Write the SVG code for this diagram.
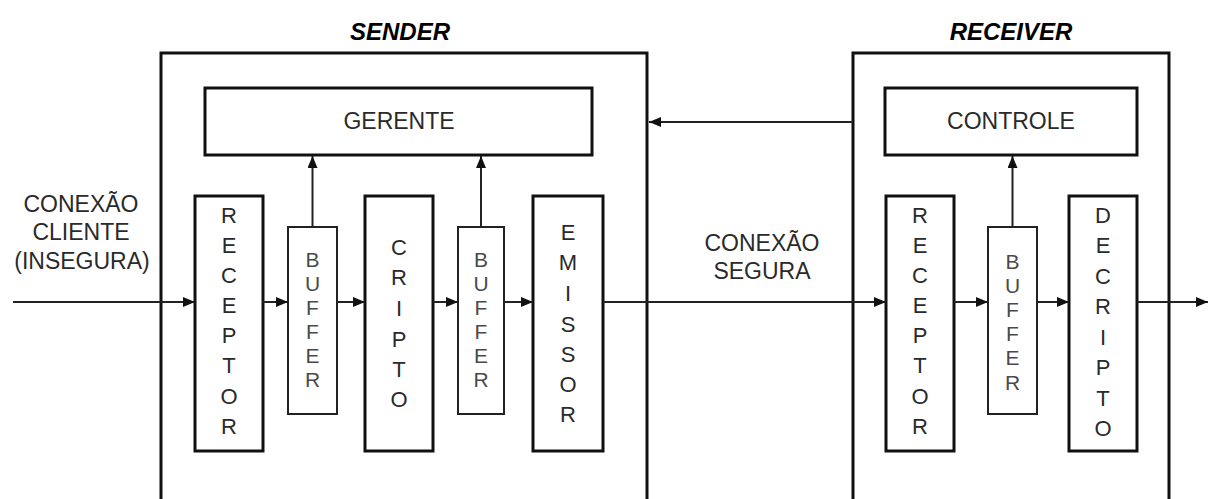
<svg xmlns="http://www.w3.org/2000/svg" width="1208" height="499" viewBox="0 0 1208 499">
<style>
.frame{fill:none;stroke:#111;stroke-width:3}
.blk{fill:#fff;stroke:#111;stroke-width:3}
.buf{fill:#fff;stroke:#222;stroke-width:2}
.conn{fill:none;stroke:#222;stroke-width:2}
.title{font-family:"Liberation Sans",Arial,sans-serif;font-weight:bold;font-style:italic;font-size:24px;fill:#000;text-anchor:middle}
.lbl{font-family:"Liberation Sans",Arial,sans-serif;font-size:23px;fill:#2a2a2a;text-anchor:middle}
.vl{font-family:"Liberation Sans",Arial,sans-serif;font-size:22px;fill:#2a2a2a;text-anchor:middle}
.vb{font-family:"Liberation Sans",Arial,sans-serif;font-size:21px;fill:#4a4a4a;text-anchor:middle}
</style>
<defs>
<marker id="ah" viewBox="0 0 12 10" refX="12" refY="5" markerWidth="13" markerHeight="10" markerUnits="userSpaceOnUse" orient="auto">
<path d="M0,0 L12,5 L0,10 z" fill="#111"/>
</marker>
</defs>
<rect width="1208" height="499" fill="#fff"/>

<g id="sender">
<rect class="frame" x="161" y="53" width="486" height="470"/>
<text class="title" x="400" y="40">SENDER</text>
</g>
<g id="receiver">
<rect class="frame" x="853" y="53" width="316" height="470"/>
<text class="title" x="1011" y="40">RECEIVER</text>
</g>

<g id="gerente">
<rect class="blk" x="205" y="88" width="387" height="67"/>
<text class="lbl" x="399" y="129">GERENTE</text>
</g>
<g id="controle">
<rect class="blk" x="885" y="88" width="252" height="67"/>
<text class="lbl" x="1011" y="129">CONTROLE</text>
</g>

<g id="label-cliente">
<text class="lbl" x="81" y="212">CONEXÃO</text>
<text class="lbl" x="81" y="240">CLIENTE</text>
<text class="lbl" x="82" y="269">(INSEGURA)</text>
</g>
<g id="label-segura">
<text class="lbl" x="762" y="251">CONEXÃO</text>
<text class="lbl" x="762" y="279">SEGURA</text>
</g>

<g id="receptor-s">
<rect class="blk" x="195" y="196" width="68" height="255"/>
<text class="vl"><tspan x="229" y="223">R</tspan><tspan x="229" y="253">E</tspan><tspan x="229" y="283">C</tspan><tspan x="229" y="313">E</tspan><tspan x="229" y="343">P</tspan><tspan x="229" y="373">T</tspan><tspan x="229" y="404">O</tspan><tspan x="229" y="434">R</tspan></text>
</g>
<g id="buffer-s1">
<rect class="buf" x="288" y="227" width="49" height="187"/>
<text class="vb"><tspan x="312.5" y="267">B</tspan><tspan x="312.5" y="291">U</tspan><tspan x="312.5" y="315">F</tspan><tspan x="312.5" y="339">F</tspan><tspan x="312.5" y="363">E</tspan><tspan x="312.5" y="387">R</tspan></text>
</g>
<g id="cripto">
<rect class="blk" x="365" y="196" width="68" height="255"/>
<text class="vl"><tspan x="399" y="255">C</tspan><tspan x="399" y="285">R</tspan><tspan x="399" y="316">I</tspan><tspan x="399" y="347">P</tspan><tspan x="399" y="377">T</tspan><tspan x="399" y="407">O</tspan></text>
</g>
<g id="buffer-s2">
<rect class="buf" x="458" y="227" width="46" height="187"/>
<text class="vb"><tspan x="481" y="267">B</tspan><tspan x="481" y="291">U</tspan><tspan x="481" y="315">F</tspan><tspan x="481" y="339">F</tspan><tspan x="481" y="363">E</tspan><tspan x="481" y="387">R</tspan></text>
</g>
<g id="emissor">
<rect class="blk" x="533" y="196" width="70" height="255"/>
<text class="vl"><tspan x="568" y="240">E</tspan><tspan x="568" y="270">M</tspan><tspan x="568" y="301">I</tspan><tspan x="568" y="332">S</tspan><tspan x="568" y="362">S</tspan><tspan x="568" y="392">O</tspan><tspan x="568" y="422">R</tspan></text>
</g>

<g id="receptor-r">
<rect class="blk" x="886" y="196" width="68" height="255"/>
<text class="vl"><tspan x="920" y="223">R</tspan><tspan x="920" y="253">E</tspan><tspan x="920" y="283">C</tspan><tspan x="920" y="313">E</tspan><tspan x="920" y="343">P</tspan><tspan x="920" y="373">T</tspan><tspan x="920" y="404">O</tspan><tspan x="920" y="434">R</tspan></text>
</g>
<g id="buffer-r">
<rect class="buf" x="988" y="227" width="49" height="187"/>
<text class="vb"><tspan x="1012.5" y="269">B</tspan><tspan x="1012.5" y="293">U</tspan><tspan x="1012.5" y="317">F</tspan><tspan x="1012.5" y="341">F</tspan><tspan x="1012.5" y="365">E</tspan><tspan x="1012.5" y="390">R</tspan></text>
</g>
<g id="decripto">
<rect class="blk" x="1069" y="196" width="68" height="255"/>
<text class="vl"><tspan x="1103" y="223">D</tspan><tspan x="1103" y="253">E</tspan><tspan x="1103" y="284">C</tspan><tspan x="1103" y="314">R</tspan><tspan x="1103" y="345">I</tspan><tspan x="1103" y="375">P</tspan><tspan x="1103" y="406">T</tspan><tspan x="1103" y="436">O</tspan></text>
</g>

<g id="connectors">
<path class="conn" d="M13,302 H195" marker-end="url(#ah)"/>
<path class="conn" d="M263,302 H288" marker-end="url(#ah)"/>
<path class="conn" d="M337,302 H365" marker-end="url(#ah)"/>
<path class="conn" d="M433,302 H458" marker-end="url(#ah)"/>
<path class="conn" d="M504,302 H533" marker-end="url(#ah)"/>
<path class="conn" d="M603,302 H886" marker-end="url(#ah)"/>
<path class="conn" d="M954,302 H988" marker-end="url(#ah)"/>
<path class="conn" d="M1037,302 H1069" marker-end="url(#ah)"/>
<path class="conn" d="M1137,302 H1208" marker-end="url(#ah)"/>
<path class="conn" d="M312.5,227 V156" marker-end="url(#ah)"/>
<path class="conn" d="M481,227 V156" marker-end="url(#ah)"/>
<path class="conn" d="M1012.5,227 V156" marker-end="url(#ah)"/>
<path class="conn" d="M853,122 H649" marker-end="url(#ah)"/>
</g>
</svg>
